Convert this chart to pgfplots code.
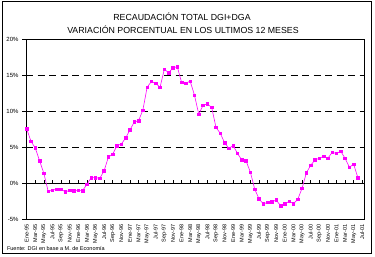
\documentclass[border=0pt]{standalone}
\usepackage{fontspec}
\setmainfont{Liberation Sans}
\usepackage{pgfplots}
\pgfplotsset{compat=1.18}
\definecolor{mag}{RGB}{255,0,255}
\begin{document}
\begin{tikzpicture}
\path[use as bounding box] (0pt,0pt) rectangle (375pt,257pt);
\draw[line width=0.8pt] (2.5pt,3.5pt) rectangle (371.5pt,255.5pt);
\node[font=\fontsize{8.8}{10}\selectfont] at (182pt,240pt) {RECAUDACIÓN TOTAL DGI+DGA};
\node[font=\fontsize{8.8}{10}\selectfont] at (183pt,227.5pt) {VARIACIÓN PORCENTUAL EN LOS ULTIMOS 12 MESES};
\node[anchor=base west, font=\fontsize{5.5}{6}\selectfont] at (3.5pt,6pt) {Fuente: DGI en base a M. de Economía};
% zero line with upward ticks
\begin{axis}[at={(26pt,74pt)}, anchor=south west, scale only axis, width=338pt, height=144pt,
  xmin=-0.15, xmax=78.4, ymin=0, ymax=20, hide y axis, axis x line*=bottom,
  axis line style={-, line width=0.9pt}, xtick={0,2,...,78}, xticklabels={},
  tick align=inside, major tick length=3pt, tick style={line width=0.6pt, black}]
\end{axis}
\begin{axis}[at={(26pt,38pt)}, anchor=south west, scale only axis, width=338pt, height=180pt,
  xmin=-0.15, xmax=78.4, ymin=-5, ymax=20,
  axis line style={line width=0.9pt},
  ytick={-5,0,5,10,15,20},
  yticklabel={\pgfmathprintnumber{\tick}\%},
  /pgf/number format/assume math mode=true,
  y tick label style={font=\fontsize{6}{7}\selectfont},
  ymajorgrids, grid style={black, dashed, dash pattern=on 7pt off 4.5pt, line width=0.8pt},
  tick align=outside, ytick pos=left, major tick length=4pt,
  tick style={black, line width=0.6pt},
  xtick={0,2,...,78}, xtick pos=bottom, x tick style={draw=none},
  xticklabels={Ene-95,Mar-95,May-95,Jul-95,Sep-95,Nov-95,
    Ene-96,Mar-96,May-96,Jul-96,Sep-96,Nov-96,
    Ene-97,Mar-97,May-97,Jul-97,Sep-97,Nov-97,
    Ene-98,Mar-98,May-98,Jul-98,Sep-98,Nov-98,
    Ene-99,Mar-99,May-99,Jul-99,Sep-99,Nov-99,
    Ene-00,Mar-00,May-00,Jul-00,Sep-00,Nov-00,
    Ene-01,Mar-01,May-01,Jul-01},
  x tick label style={rotate=90, anchor=east, font=\fontsize{5.5}{6}\selectfont, inner sep=1.5pt},
]
\addplot[mag, line width=0.6pt, mark=square*, mark size=1.3pt, mark options={solid, fill=mag, draw=mag}] table {
x y
0 7.55
1 5.8
2 4.86
3 3.1
4 1.35
5 -1.15
6 -1.0
7 -0.85
8 -0.85
9 -1.25
10 -1.0
11 -1.05
12 -1.0
13 -1.05
14 -0.2
15 0.75
16 0.75
17 0.65
18 1.7
19 3.6
20 4.0
21 5.2
22 5.4
23 6.25
24 7.36
25 8.47
26 8.66
27 10.1
28 13.3
29 14.1
30 13.85
31 13.3
32 15.8
33 15.3
34 16.0
35 16.15
36 14.0
37 13.85
38 14.15
39 12.2
40 9.55
41 10.8
42 10.97
43 10.5
44 7.73
45 6.9
46 5.6
47 4.8
48 5.2
49 4.1
50 3.2
51 3.05
52 1.5
53 -0.85
54 -2.2
55 -2.9
56 -2.7
57 -2.64
58 -2.36
59 -3.15
60 -2.9
61 -2.55
62 -2.87
63 -2.27
64 -0.74
65 1.4
66 2.45
67 3.2
68 3.43
69 3.7
70 3.43
71 4.26
72 4.1
73 4.4
74 3.43
75 2.2
76 2.6
77 0.7
};
\end{axis}
\end{tikzpicture}
\end{document}
